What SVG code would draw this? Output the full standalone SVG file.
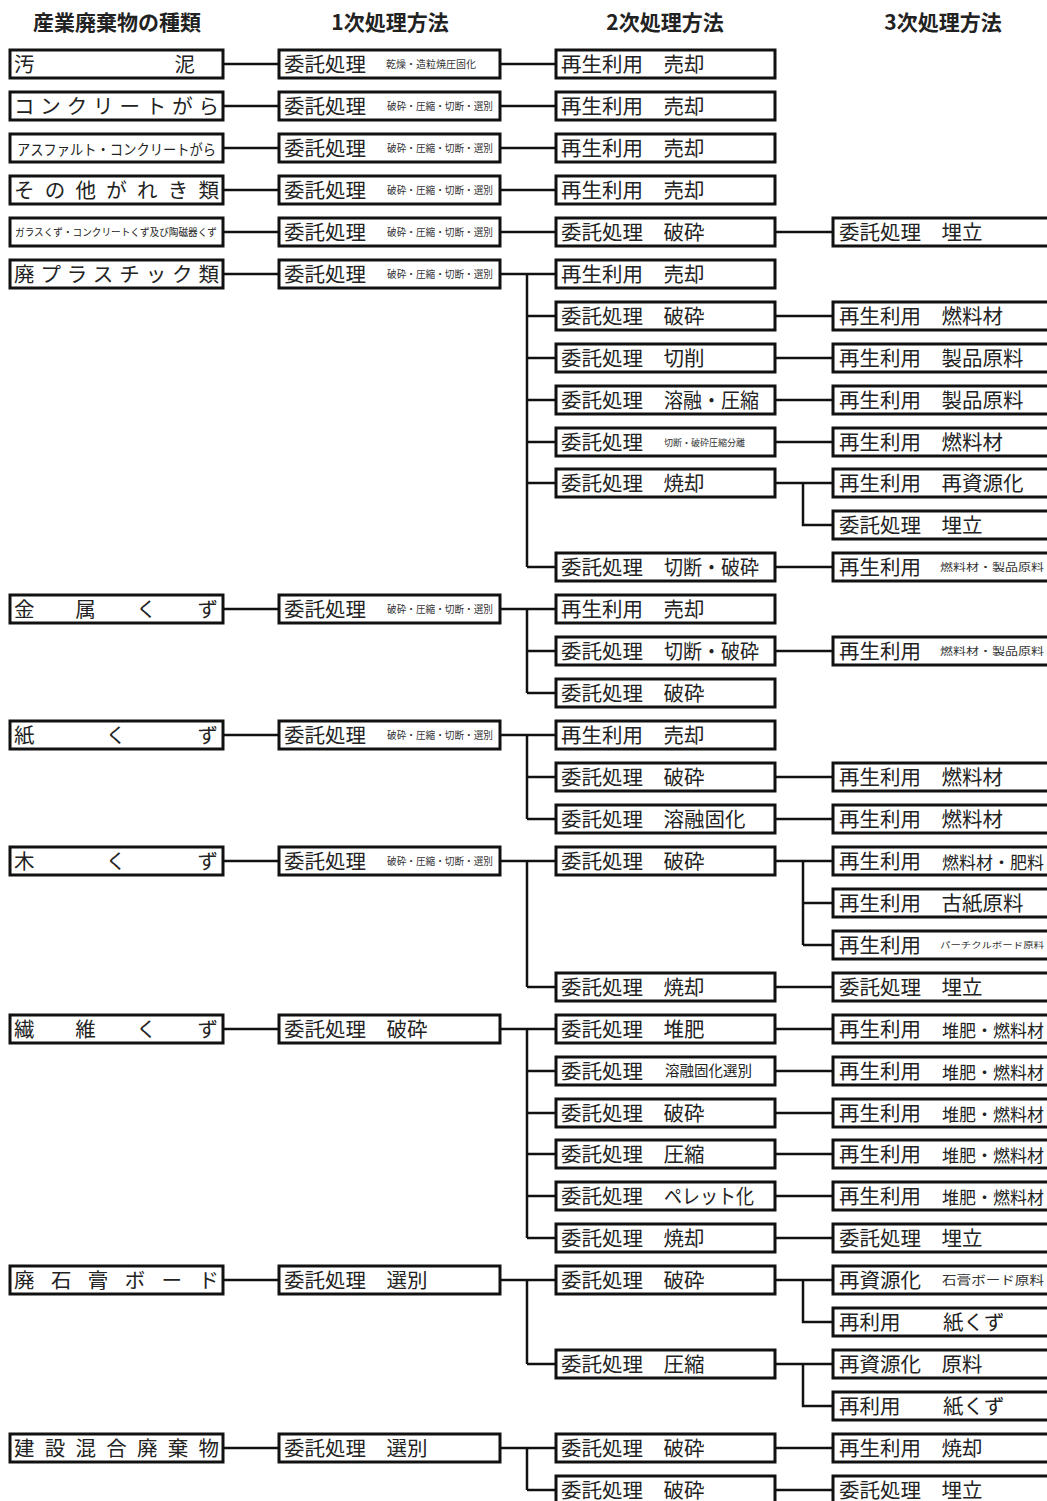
<svg xmlns="http://www.w3.org/2000/svg" width="1047" height="1501" viewBox="0 0 1047 1501">
<style>
.box{fill:#fff;stroke:#111;stroke-width:3}
.t{font-family:"Noto Sans CJK JP","Noto Sans CJK SC",sans-serif;font-size:20.5px;fill:#222}
.h{font-family:"Noto Sans CJK JP","Noto Sans CJK SC",sans-serif;font-size:21px;font-weight:bold;fill:#222}
.s{font-family:"Noto Sans CJK JP","Noto Sans CJK SC",sans-serif;font-size:10px;fill:#333}
.m{font-size:17px}
.ln{stroke:#111;stroke-width:2.5;fill:none}
</style>
<rect width="1047" height="1501" fill="#fff"/>
<g id="headers">
<text class="h" x="117" y="30" text-anchor="middle">産業廃棄物の種類</text>
<text class="h" x="390" y="30" text-anchor="middle">1次処理方法</text>
<text class="h" x="665" y="30" text-anchor="middle">2次処理方法</text>
<text class="h" x="943" y="30" text-anchor="middle">3次処理方法</text>
</g>
<g id="connectors">
<path class="ln" d="M223 64H279M223 106H279M223 148H279M223 190H279M223 232H279M223 274H279M223 609H279M223 735H279M223 861H279M223 1029H279M223 1280H279M223 1448H279"/>
<path class="ln" d="M500 64H556M500 106H556M500 148H556M500 190H556M500 232H556"/>
<path class="ln" d="M500 274H556M527 274V567M527 316H556M527 358H556M527 400H556M527 442H556M527 483H556M527 567H556"/>
<path class="ln" d="M500 609H556M527 609V693M527 651H556M527 693H556"/>
<path class="ln" d="M500 735H556M527 735V819M527 777H556M527 819H556"/>
<path class="ln" d="M500 861H556M527 861V987M527 987H556"/>
<path class="ln" d="M500 1029H556M527 1029V1238M527 1071H556M527 1113H556M527 1154H556M527 1196H556M527 1238H556"/>
<path class="ln" d="M500 1280H556M527 1280V1364M527 1364H556"/>
<path class="ln" d="M500 1448H556M527 1448V1490M527 1490H556"/>
<path class="ln" d="M775 232H833M775 316H833M775 358H833M775 400H833M775 442H833M775 483H833M803 483V525H833M775 567H833M775 651H833M775 777H833M775 819H833"/>
<path class="ln" d="M775 861H833M803 861V945M803 903H833M803 945H833M775 987H833"/>
<path class="ln" d="M775 1029H833M775 1071H833M775 1113H833M775 1154H833M775 1196H833M775 1238H833"/>
<path class="ln" d="M775 1280H833M803 1280V1322H833M775 1364H833M803 1364V1406H833M775 1448H833M775 1490H833"/>
</g>
<g id="col0">
<g id="w0"><rect class="box" x="10" y="50" width="213" height="28"/><text class="t" x="14" y="71.5" textLength="181" lengthAdjust="spacing">汚泥</text></g>
<g id="w1"><rect class="box" x="10" y="92" width="213" height="28"/><text class="t" x="14" y="113.5" textLength="205" lengthAdjust="spacing">コンクリートがら</text></g>
<g id="w2"><rect class="box" x="10" y="134" width="213" height="28"/><text class="t" x="17" y="154.5" style="font-size:14.5px" textLength="199" lengthAdjust="spacingAndGlyphs">アスファルト・コンクリートがら</text></g>
<g id="w3"><rect class="box" x="10" y="176" width="213" height="28"/><text class="t" x="14" y="197.5" textLength="205" lengthAdjust="spacing">その他がれき類</text></g>
<g id="w4"><rect class="box" x="10" y="218" width="213" height="28"/><text class="t" x="15" y="236" style="font-size:10px" textLength="202" lengthAdjust="spacingAndGlyphs">ガラスくず・コンクリートくず及び陶磁器くず</text></g>
<g id="w5"><rect class="box" x="10" y="260" width="213" height="28"/><text class="t" x="14" y="281.5" textLength="205" lengthAdjust="spacing">廃プラスチック類</text></g>
<g id="w6"><rect class="box" x="10" y="595" width="213" height="28"/><text class="t" x="14" y="616.5" textLength="204" lengthAdjust="spacing">金属くず</text></g>
<g id="w7"><rect class="box" x="10" y="721" width="213" height="28"/><text class="t" x="14" y="742.5" textLength="204" lengthAdjust="spacing">紙くず</text></g>
<g id="w8"><rect class="box" x="10" y="847" width="213" height="28"/><text class="t" x="14" y="868.5" textLength="204" lengthAdjust="spacing">木くず</text></g>
<g id="w9"><rect class="box" x="10" y="1015" width="213" height="28"/><text class="t" x="14" y="1036.5" textLength="204" lengthAdjust="spacing">繊維くず</text></g>
<g id="w10"><rect class="box" x="10" y="1266" width="213" height="28"/><text class="t" x="14" y="1287.5" textLength="205" lengthAdjust="spacing">廃石膏ボード</text></g>
<g id="w11"><rect class="box" x="10" y="1434" width="213" height="28"/><text class="t" x="14" y="1455.5" textLength="205" lengthAdjust="spacing">建設混合廃棄物</text></g>
</g>
<g id="col1">
<g id="p0"><rect class="box" x="279" y="50" width="221" height="28"/><text class="t" x="284" y="71.5">委託処理</text><text class="s" x="386" y="68">乾燥・造粒焼圧固化</text></g>
<g id="p1"><rect class="box" x="279" y="92" width="221" height="28"/><text class="t" x="284" y="113.5">委託処理</text><text class="s" x="387" y="110" textLength="106" lengthAdjust="spacingAndGlyphs">破砕・圧縮・切断・選別</text></g>
<g id="p2"><rect class="box" x="279" y="134" width="221" height="28"/><text class="t" x="284" y="155.5">委託処理</text><text class="s" x="387" y="152" textLength="106" lengthAdjust="spacingAndGlyphs">破砕・圧縮・切断・選別</text></g>
<g id="p3"><rect class="box" x="279" y="176" width="221" height="28"/><text class="t" x="284" y="197.5">委託処理</text><text class="s" x="387" y="194" textLength="106" lengthAdjust="spacingAndGlyphs">破砕・圧縮・切断・選別</text></g>
<g id="p4"><rect class="box" x="279" y="218" width="221" height="28"/><text class="t" x="284" y="239.5">委託処理</text><text class="s" x="387" y="236" textLength="106" lengthAdjust="spacingAndGlyphs">破砕・圧縮・切断・選別</text></g>
<g id="p5"><rect class="box" x="279" y="260" width="221" height="28"/><text class="t" x="284" y="281.5">委託処理</text><text class="s" x="387" y="278" textLength="106" lengthAdjust="spacingAndGlyphs">破砕・圧縮・切断・選別</text></g>
<g id="p6"><rect class="box" x="279" y="595" width="221" height="28"/><text class="t" x="284" y="616.5">委託処理</text><text class="s" x="387" y="613" textLength="106" lengthAdjust="spacingAndGlyphs">破砕・圧縮・切断・選別</text></g>
<g id="p7"><rect class="box" x="279" y="721" width="221" height="28"/><text class="t" x="284" y="742.5">委託処理</text><text class="s" x="387" y="739" textLength="106" lengthAdjust="spacingAndGlyphs">破砕・圧縮・切断・選別</text></g>
<g id="p8"><rect class="box" x="279" y="847" width="221" height="28"/><text class="t" x="284" y="868.5">委託処理</text><text class="s" x="387" y="865" textLength="106" lengthAdjust="spacingAndGlyphs">破砕・圧縮・切断・選別</text></g>
<g id="p9"><rect class="box" x="279" y="1015" width="221" height="28"/><text class="t" x="284" y="1036.5">委託処理　破砕</text></g>
<g id="p10"><rect class="box" x="279" y="1266" width="221" height="28"/><text class="t" x="284" y="1287.5">委託処理　選別</text></g>
<g id="p11"><rect class="box" x="279" y="1434" width="221" height="28"/><text class="t" x="284" y="1455.5">委託処理　選別</text></g>
</g>
<g id="col2">
<g id="q0"><rect class="box" x="556" y="50" width="219" height="28"/><text class="t" x="561" y="71.5">再生利用　売却</text></g>
<g id="q1"><rect class="box" x="556" y="92" width="219" height="28"/><text class="t" x="561" y="113.5">再生利用　売却</text></g>
<g id="q2"><rect class="box" x="556" y="134" width="219" height="28"/><text class="t" x="561" y="155.5">再生利用　売却</text></g>
<g id="q3"><rect class="box" x="556" y="176" width="219" height="28"/><text class="t" x="561" y="197.5">再生利用　売却</text></g>
<g id="q4"><rect class="box" x="556" y="218" width="219" height="28"/><text class="t" x="561" y="239.5">委託処理　破砕</text></g>
<g id="q5"><rect class="box" x="556" y="260" width="219" height="28"/><text class="t" x="561" y="281.5">再生利用　売却</text></g>
<g id="q6"><rect class="box" x="556" y="302" width="219" height="28"/><text class="t" x="561" y="323.5">委託処理　破砕</text></g>
<g id="q7"><rect class="box" x="556" y="344" width="219" height="28"/><text class="t" x="561" y="365.5">委託処理　切削</text></g>
<g id="q8"><rect class="box" x="556" y="386" width="219" height="28"/><text class="t" x="561" y="407.5">委託処理</text><text class="t" x="664" y="407.5" textLength="95" lengthAdjust="spacingAndGlyphs">溶融・圧縮</text></g>
<g id="q9"><rect class="box" x="556" y="428" width="219" height="28"/><text class="t" x="561" y="449.5">委託処理</text><text class="s" x="664" y="446" style="font-size:9px">切断・破砕圧縮分離</text></g>
<g id="q10"><rect class="box" x="556" y="469" width="219" height="28"/><text class="t" x="561" y="490.5">委託処理　焼却</text></g>
<g id="q11"><rect class="box" x="556" y="553" width="219" height="28"/><text class="t" x="561" y="574.5">委託処理</text><text class="t" x="664" y="574.5" textLength="95" lengthAdjust="spacingAndGlyphs">切断・破砕</text></g>
<g id="q12"><rect class="box" x="556" y="595" width="219" height="28"/><text class="t" x="561" y="616.5">再生利用　売却</text></g>
<g id="q13"><rect class="box" x="556" y="637" width="219" height="28"/><text class="t" x="561" y="658.5">委託処理</text><text class="t" x="664" y="658.5" textLength="95" lengthAdjust="spacingAndGlyphs">切断・破砕</text></g>
<g id="q14"><rect class="box" x="556" y="679" width="219" height="28"/><text class="t" x="561" y="700.5">委託処理　破砕</text></g>
<g id="q15"><rect class="box" x="556" y="721" width="219" height="28"/><text class="t" x="561" y="742.5">再生利用　売却</text></g>
<g id="q16"><rect class="box" x="556" y="763" width="219" height="28"/><text class="t" x="561" y="784.5">委託処理　破砕</text></g>
<g id="q17"><rect class="box" x="556" y="805" width="219" height="28"/><text class="t" x="561" y="826.5">委託処理　溶融固化</text></g>
<g id="q18"><rect class="box" x="556" y="847" width="219" height="28"/><text class="t" x="561" y="868.5">委託処理　破砕</text></g>
<g id="q19"><rect class="box" x="556" y="973" width="219" height="28"/><text class="t" x="561" y="994.5">委託処理　焼却</text></g>
<g id="q20"><rect class="box" x="556" y="1015" width="219" height="28"/><text class="t" x="561" y="1036.5">委託処理　堆肥</text></g>
<g id="q21"><rect class="box" x="556" y="1057" width="219" height="28"/><text class="t" x="561" y="1078.5">委託処理</text><text class="t" x="665" y="1076" style="font-size:14.5px">溶融固化選別</text></g>
<g id="q22"><rect class="box" x="556" y="1099" width="219" height="28"/><text class="t" x="561" y="1120.5">委託処理　破砕</text></g>
<g id="q23"><rect class="box" x="556" y="1140" width="219" height="28"/><text class="t" x="561" y="1161.5">委託処理　圧縮</text></g>
<g id="q24"><rect class="box" x="556" y="1182" width="219" height="28"/><text class="t" x="561" y="1203.5">委託処理</text><text class="t" x="664" y="1203.5" textLength="90" lengthAdjust="spacingAndGlyphs">ペレット化</text></g>
<g id="q25"><rect class="box" x="556" y="1224" width="219" height="28"/><text class="t" x="561" y="1245.5">委託処理　焼却</text></g>
<g id="q26"><rect class="box" x="556" y="1266" width="219" height="28"/><text class="t" x="561" y="1287.5">委託処理　破砕</text></g>
<g id="q27"><rect class="box" x="556" y="1350" width="219" height="28"/><text class="t" x="561" y="1371.5">委託処理　圧縮</text></g>
<g id="q28"><rect class="box" x="556" y="1434" width="219" height="28"/><text class="t" x="561" y="1455.5">委託処理　破砕</text></g>
<g id="q29"><rect class="box" x="556" y="1476" width="219" height="28"/><text class="t" x="561" y="1497.5">委託処理　破砕</text></g>
</g>
<g id="col3">
<g id="r0"><rect class="box" x="833" y="218" width="216" height="28"/><text class="t" x="839" y="239.5">委託処理　埋立</text></g>
<g id="r1"><rect class="box" x="833" y="302" width="216" height="28"/><text class="t" x="839" y="323.5">再生利用　燃料材</text></g>
<g id="r2"><rect class="box" x="833" y="344" width="216" height="28"/><text class="t" x="839" y="365.5">再生利用　製品原料</text></g>
<g id="r3"><rect class="box" x="833" y="386" width="216" height="28"/><text class="t" x="839" y="407.5">再生利用　製品原料</text></g>
<g id="r4"><rect class="box" x="833" y="428" width="216" height="28"/><text class="t" x="839" y="449.5">再生利用　燃料材</text></g>
<g id="r5"><rect class="box" x="833" y="469" width="216" height="28"/><text class="t" x="839" y="490.5">再生利用　再資源化</text></g>
<g id="r6"><rect class="box" x="833" y="511" width="216" height="28"/><text class="t" x="839" y="532.5">委託処理　埋立</text></g>
<g id="r7"><rect class="box" x="833" y="553" width="216" height="28"/><text class="t" x="839" y="574.5">再生利用</text><text class="s" x="940" y="571" style="font-size:10px" textLength="104" lengthAdjust="spacingAndGlyphs">燃料材・製品原料</text></g>
<g id="r8"><rect class="box" x="833" y="637" width="216" height="28"/><text class="t" x="839" y="658.5">再生利用</text><text class="s" x="940" y="655" style="font-size:10px" textLength="104" lengthAdjust="spacingAndGlyphs">燃料材・製品原料</text></g>
<g id="r9"><rect class="box" x="833" y="763" width="216" height="28"/><text class="t" x="839" y="784.5">再生利用　燃料材</text></g>
<g id="r10"><rect class="box" x="833" y="805" width="216" height="28"/><text class="t" x="839" y="826.5">再生利用　燃料材</text></g>
<g id="r11"><rect class="box" x="833" y="847" width="216" height="28"/><text class="t" x="839" y="868.5">再生利用</text><text class="t m" x="942" y="868.5" textLength="102" lengthAdjust="spacingAndGlyphs">燃料材・肥料</text></g>
<g id="r12"><rect class="box" x="833" y="889" width="216" height="28"/><text class="t" x="839" y="910.5">再生利用　古紙原料</text></g>
<g id="r13"><rect class="box" x="833" y="931" width="216" height="28"/><text class="t" x="839" y="952.5">再生利用</text><text class="s" x="940" y="948" style="font-size:8.5px" textLength="104" lengthAdjust="spacingAndGlyphs">パーチクルボード原料</text></g>
<g id="r14"><rect class="box" x="833" y="973" width="216" height="28"/><text class="t" x="839" y="994.5">委託処理　埋立</text></g>
<g id="r15"><rect class="box" x="833" y="1015" width="216" height="28"/><text class="t" x="839" y="1036.5">再生利用</text><text class="t m" x="942" y="1036.5" textLength="102" lengthAdjust="spacingAndGlyphs">堆肥・燃料材</text></g>
<g id="r16"><rect class="box" x="833" y="1057" width="216" height="28"/><text class="t" x="839" y="1078.5">再生利用</text><text class="t m" x="942" y="1078.5" textLength="102" lengthAdjust="spacingAndGlyphs">堆肥・燃料材</text></g>
<g id="r17"><rect class="box" x="833" y="1099" width="216" height="28"/><text class="t" x="839" y="1120.5">再生利用</text><text class="t m" x="942" y="1120.5" textLength="102" lengthAdjust="spacingAndGlyphs">堆肥・燃料材</text></g>
<g id="r18"><rect class="box" x="833" y="1140" width="216" height="28"/><text class="t" x="839" y="1161.5">再生利用</text><text class="t m" x="942" y="1161.5" textLength="102" lengthAdjust="spacingAndGlyphs">堆肥・燃料材</text></g>
<g id="r19"><rect class="box" x="833" y="1182" width="216" height="28"/><text class="t" x="839" y="1203.5">再生利用</text><text class="t m" x="942" y="1203.5" textLength="102" lengthAdjust="spacingAndGlyphs">堆肥・燃料材</text></g>
<g id="r20"><rect class="box" x="833" y="1224" width="216" height="28"/><text class="t" x="839" y="1245.5">委託処理　埋立</text></g>
<g id="r21"><rect class="box" x="833" y="1266" width="216" height="28"/><text class="t" x="839" y="1287.5">再資源化</text><text class="s" x="942" y="1285" style="font-size:12px" textLength="102" lengthAdjust="spacingAndGlyphs">石膏ボード原料</text></g>
<g id="r22"><rect class="box" x="833" y="1308" width="216" height="28"/><text class="t" x="839" y="1329.5">再利用</text><text class="t" x="943" y="1329.5">紙くず</text></g>
<g id="r23"><rect class="box" x="833" y="1350" width="216" height="28"/><text class="t" x="839" y="1371.5">再資源化　原料</text></g>
<g id="r24"><rect class="box" x="833" y="1392" width="216" height="28"/><text class="t" x="839" y="1413.5">再利用</text><text class="t" x="943" y="1413.5">紙くず</text></g>
<g id="r25"><rect class="box" x="833" y="1434" width="216" height="28"/><text class="t" x="839" y="1455.5">再生利用　焼却</text></g>
<g id="r26"><rect class="box" x="833" y="1476" width="216" height="28"/><text class="t" x="839" y="1497.5">委託処理　埋立</text></g>
</g>
</svg>
